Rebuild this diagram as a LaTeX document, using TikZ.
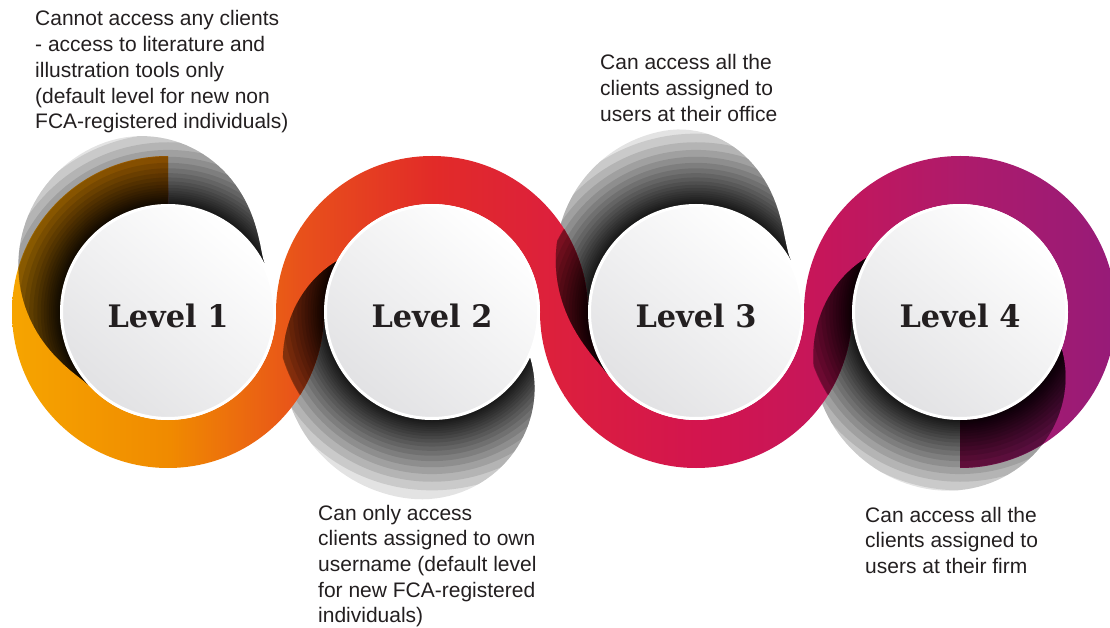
\documentclass[tikz,border=0pt]{standalone}
\usepackage{fontspec}
\setmainfont{Liberation Sans}
\newfontfamily\levelfont[FakeStretch=0.98]{DejaVu Serif}
\definecolor{txt}{HTML}{231F20}
\definecolor{diskgrey}{HTML}{E2E2E4}
\definecolor{g0}{HTML}{F6A500}
\definecolor{g1}{HTML}{F08A00}
\definecolor{g2}{HTML}{E8511B}
\definecolor{g3}{HTML}{E22B28}
\definecolor{g4}{HTML}{DC1F3E}
\definecolor{g5}{HTML}{D3154E}
\definecolor{g6}{HTML}{C5165B}
\definecolor{g7}{HTML}{AE1B6B}
\definecolor{g8}{HTML}{971B78}
\tikzset{
  sector/.style n args={3}{insert path={([shift={(#1)}]#2:156) arc[start angle=#2,end angle=#3,radius=156pt] -- ([shift={(#1)}]#3:108) arc[start angle=#3,end angle=#2,radius=108pt] -- cycle}},
  ribbon/.style={sector={c1}{90}{360},sector={c2}{0}{180},sector={c3}{180}{360},sector={c4}{-90}{180}},
  fanband/.style={fill=black,fill opacity=0.109},
  disk/.style={circle,minimum size=213pt,inner sep=0pt,draw=white,line width=3pt,
    top color=white,bottom color=diskgrey,shading angle=-40,
    text height=32pt,text depth=0pt,text=txt,font=\levelfont\bfseries\fontsize{31}{31}\selectfont},
  desc/.style={anchor=base west,align=left,inner sep=0pt,text=txt,font=\fontsize{21}{25.7}\selectfont}
}
% #1 centre, #2 start angle, #3 angle of widest point, #4 end angle, #5 largest radius, #6 exponent
\newcommand\drawfan[6]{%
  \begin{scope}[shift={(#1)}]
    \clip (#2:100) -- plot[domain=#2:#4,samples=90,variable=\t]
      (\t:{108+(#5-108)*pow(max(0,sin(90*min((\t-#2)/(#3-#2),(#4-\t)/(#4-#3)))),#6)})
      -- (#4:100) arc[start angle=#4,end angle=#2,radius=100pt] -- cycle;
    \foreach \k in {0,...,19}{%
      \pgfmathsetmacro\rr{108+80*(1-(1-exp(-0.115*\k))/0.9)}%
      \fill[fanband] (0,0) circle[radius=\rr pt];
    }
  \end{scope}}
\newcommand\allfans[1]{%
  \begin{scope}#1{c1}\drawfan{c1}{27}{112}{222}{181}{1.4}\end{scope}
  \begin{scope}#1{c2}\drawfan{c2}{152}{262}{335}{188}{1}\end{scope}
  \begin{scope}#1{c3}\drawfan{c3}{29}{100}{215}{184}{1.6}\end{scope}
  \begin{scope}#1{c4}\drawfan{c4}{150}{258}{340}{180}{1}\end{scope}}
\newcommand\noclip[1]{}
\newcommand\ringclip[1]{\clip (#1) circle[radius=156pt];}
\begin{document}
\begin{tikzpicture}[x=1pt,y=1pt]
\useasboundingbox (0,0) rectangle (1110,627);
\coordinate (c1) at (168,315);
\coordinate (c2) at (432,315);
\coordinate (c3) at (696,315);
\coordinate (c4) at (960,315);
% shadows under the ribbon
\allfans\noclip
% ribbon
\begin{scope}
  \clip[ribbon];
  \shade[left color=g0,right color=g1] (8,140) rectangle (171,480);
  \shade[left color=g1,right color=g2] (170,140) rectangle (301,480);
  \shade[left color=g2,right color=g3] (300,140) rectangle (433,480);
  \shade[left color=g3,right color=g4] (432,140) rectangle (565,480);
  \shade[left color=g4,right color=g5] (564,140) rectangle (697,480);
  \shade[left color=g5,right color=g6] (696,140) rectangle (829,480);
  \shade[left color=g6,right color=g7] (828,140) rectangle (961,480);
  \shade[left color=g7,right color=g8] (960,140) rectangle (1112,480);
\end{scope}
% shadows falling on the ribbon
\begin{scope}
  \clip[ribbon];
  \allfans\ringclip
\end{scope}
% discs
\node[disk] (d1) at (c1) {Level 1};
\node[disk] (d2) at (c2) {Level 2};
\node[disk] (d3) at (c3) {Level 3};
\node[disk] (d4) at (c4) {Level 4};
% descriptions (anchored at the baseline of the last line)
\node[desc] (t1) at (35,498.2) {Cannot access any clients\\- access to literature and\\illustration tools only\\(default level for new non\\FCA-registered individuals)};
\node[desc] (t3) at (600,505.6) {Can access all the\\clients assigned to\\users at their office};
\node[desc] (t2) at (318,4.2) {Can only access\\clients assigned to own\\username (default level\\for new FCA-registered\\individuals)};
\node[desc] (t4) at (865,53.6) {Can access all the\\clients assigned to\\users at their firm};
\end{tikzpicture}
\end{document}
